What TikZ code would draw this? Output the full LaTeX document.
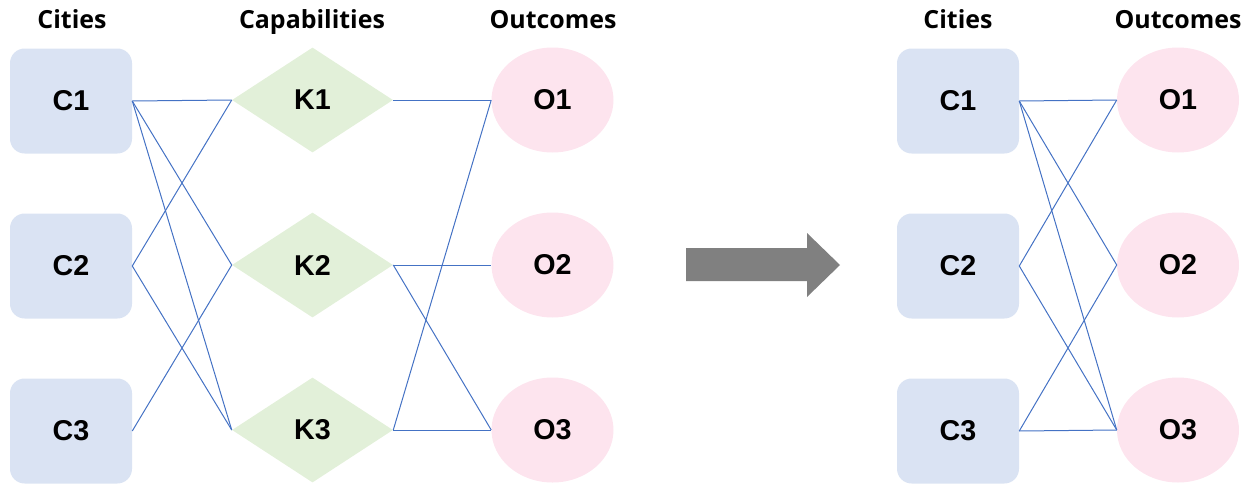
\documentclass[tikz,border=0pt]{standalone}
\usepackage{fontspec}
\setmainfont{Liberation Sans}
\newfontfamily\headfont{Open Sans}
\usetikzlibrary{shapes.geometric}
\definecolor{cityfill}{HTML}{DAE3F3}
\definecolor{capfill}{HTML}{E2F0D9}
\definecolor{outfill}{HTML}{FDE4EE}
\definecolor{linkblue}{HTML}{4472C4}
\definecolor{arrowgray}{HTML}{808080}
\tikzset{
  citynode/.style={rectangle, rounded corners=11pt, fill=cityfill, minimum width=91.5pt, minimum height=78.75pt, inner sep=0pt, font=\fontsize{21.5}{24}\selectfont\bfseries},
  capnode/.style={diamond, fill=capfill, minimum width=120.75pt, minimum height=78.75pt, inner sep=0pt, font=\fontsize{21.5}{24}\selectfont\bfseries},
  outnode/.style={ellipse, fill=outfill, minimum width=91.5pt, minimum height=78.75pt, inner sep=0pt, font=\fontsize{21.5}{24}\selectfont\bfseries},
  headnode/.style={anchor=base, inner sep=0pt, font=\headfont\fontsize{18.7}{22}\selectfont\bfseries},
  link/.style={draw=linkblue, line width=0.75pt},
  bigarrow/.style={fill=arrowgray}
}
\begin{document}
\begin{tikzpicture}[x=0.75pt,y=-0.75pt]
\useasboundingbox (0,0) rectangle (1253,489);
% headers
\node[headnode] (h1) at (72,28) {Cities};
\node[headnode] (h2) at (312,28) {Capabilities};
\node[headnode] (h3) at (553,28) {Outcomes};
\node[headnode] (h4) at (958,28) {Cities};
\node[headnode] (h5) at (1178,28) {Outcomes};
% left
\node[citynode] (c1) at (71,101) {C1};
\node[citynode] (c2) at (71,266) {C2};
\node[citynode] (c3) at (71,431) {C3};
\node[capnode] (k1) at (312.5,100) {K1};
\node[capnode] (k2) at (312.5,265) {K2};
\node[capnode] (k3) at (312.5,430) {K3};
\node[outnode] (o1) at (552.5,100) {O1};
\node[outnode] (o2) at (552.5,265) {O2};
\node[outnode] (o3) at (552.5,430) {O3};
\draw[link] (c1.east) -- (k1.west);
\draw[link] (c1.east) -- (k2.west);
\draw[link] (c1.east) -- (k3.west);
\draw[link] (c2.east) -- (k1.west);
\draw[link] (c2.east) -- (k3.west);
\draw[link] (c3.east) -- (k2.west);
\draw[link] (k1.east) -- (o1.west);
\draw[link] (k2.east) -- (o2.west);
\draw[link] (k2.east) -- (o3.west);
\draw[link] (k3.east) -- (o1.west);
\draw[link] (k3.east) -- (o3.west);
% arrow
\fill[bigarrow] (686,248) -- (807,248) -- (807,233) -- (840,265) -- (807,297) -- (807,281) -- (686,281) -- cycle;
% right
\node[citynode] (d1) at (958,101) {C1};
\node[citynode] (d2) at (958,266) {C2};
\node[citynode] (d3) at (958,431) {C3};
\node[outnode] (p1) at (1178,100) {O1};
\node[outnode] (p2) at (1178,265) {O2};
\node[outnode] (p3) at (1178,430) {O3};
\draw[link] (d1.east) -- (p1.west);
\draw[link] (d1.east) -- (p2.west);
\draw[link] (d1.east) -- (p3.west);
\draw[link] (d2.east) -- (p1.west);
\draw[link] (d2.east) -- (p3.west);
\draw[link] (d3.east) -- (p2.west);
\draw[link] (d3.east) -- (p3.west);
\end{tikzpicture}
\end{document}
